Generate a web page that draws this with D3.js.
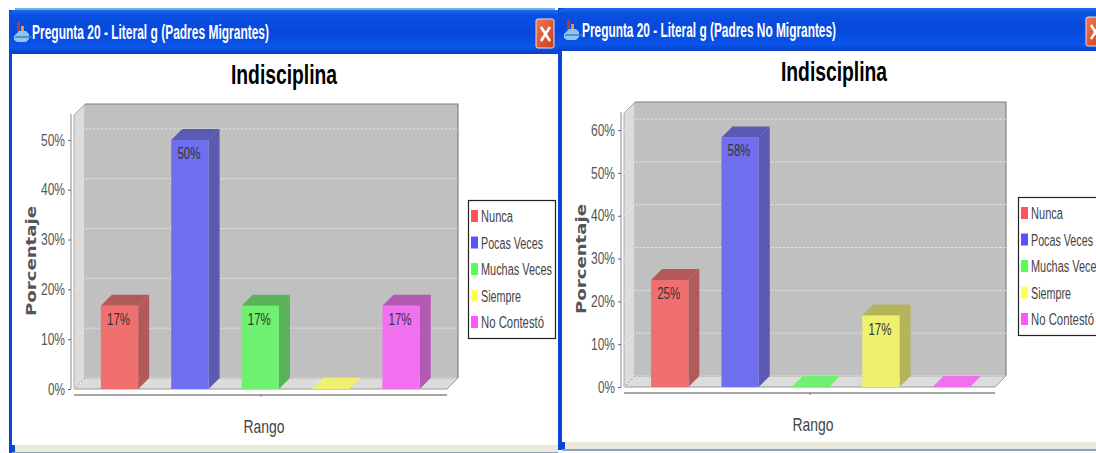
<!DOCTYPE html>
<html><head><meta charset="utf-8">
<style>html,body{margin:0;padding:0;background:#fff;overflow:hidden}svg{display:block}text{font-family:"Liberation Sans",Arial,sans-serif}</style>
<script src="https://cdn.jsdelivr.net/npm/d3@7"></script></head><body>
<svg id="c" width="1096" height="453"></svg>
<script>
const categories = ["Nunca","Pocas Veces","Muchas Veces","Siempre","No Contestó"];
const valuesMigrantes = [16.7,50,16.7,0,16.7];
const valuesNoMigrantes = [25,58.3,0,16.7,0];
const ticksMigrantes = [0,10,20,30,40,50];
const ticksNoMigrantes = [0,10,20,30,40,50,60];
const frontColors = ["#f07070","#6e6eee","#70f070","#f0f070","#f070f0"];
const sideColors = ["#b25a5a","#5a5ab2","#5ab25a","#b4b45a","#b25ab2"];
const legendColors = ["#ff5555","#5555ff","#55ff55","#ffff55","#ff55ff"];
const rowWidths = [32,62,71,40,63];

const svg = d3.select("#c");
const defs = svg.append("defs");
const grad = defs.append("linearGradient").attr("id","tb").attr("x1",0).attr("x2",0).attr("y1",0).attr("y2",1);
[[0,"#1a6cf0"],[.12,"#0a50e0"],[.5,"#0648dc"],[.85,"#0a55ea"],[1,"#0a3fc8"]].forEach(s=>grad.append("stop").attr("offset",s[0]).attr("stop-color",s[1]));
const xg = defs.append("linearGradient").attr("id","xb").attr("x1",0).attr("x2",1).attr("y1",0).attr("y2",1);
[[0,"#ee7a50"],[1,"#c83c1c"]].forEach(s=>xg.append("stop").attr("offset",s[0]).attr("stop-color",s[1]));

function label(g,str,x,y,len,opts={}){
  return g.append("text").attr("x",x).attr("y",y).text(str)
    .attr("textLength",len).attr("lengthAdjust","spacingAndGlyphs")
    .attr("font-size",opts.size||16).attr("fill",opts.fill||"#444")
    .attr("font-weight",opts.weight||"normal")
    .style("font-family",opts.family||null);
}

function chrome(o){
  const g = svg.append("g");
  g.append("rect").attr("x",o.x0).attr("y",o.top).attr("width",o.x1-o.x0).attr("height",o.bottom-o.top+8).attr("fill","#0a46d8");
  g.append("path").attr("d",`M${o.x0},${o.top+o.bar}V${o.top+7}Q${o.x0},${o.top} ${o.x0+7},${o.top}H${o.x1}V${o.top+o.bar}Z`).attr("fill","url(#tb)");
  g.append("rect").attr("x",o.cx).attr("y",o.top+o.bar).attr("width",o.x1-o.cx).attr("height",o.bottom-o.top-o.bar).attr("fill","#fff");
  g.append("rect").attr("x",o.cx+3).attr("y",o.bottom).attr("width",o.x1-o.cx-3).attr("height",7).attr("fill","#ece9d8");
  g.append("rect").attr("x",o.cx).attr("y",o.bottom+7).attr("width",o.x1-o.cx).attr("height",2).attr("fill","#8aa4c4");
  // icon
  const ix=o.iconX, iy=o.top+13;
  g.append("rect").attr("x",ix+3).attr("y",iy-1).attr("width",3).attr("height",10).attr("fill","#a83a50");
  g.append("rect").attr("x",ix+7).attr("y",iy+3).attr("width",3).attr("height",7).attr("fill","#e0a020");
  g.append("path").attr("d",`M${ix},${iy+13}l5,-5h7l3,3v5l-3,3h-9l-3,-2Z`).attr("fill","#8ec4ee");
  g.append("path").attr("d",`M${ix+1},${iy+14}h17`).attr("stroke","#3f7fc0").attr("stroke-width",1.5);
  label(g,o.title,o.iconX+18,o.top+29,o.titleLen,{size:20,fill:"#fff",weight:"bold"});
  // close button
  const b=g.append("g");
  b.append("rect").attr("x",o.btnX).attr("y",o.top+9).attr("width",18).attr("height",29).attr("rx",2).attr("fill","url(#xb)").attr("stroke","#f4d8d0").attr("stroke-width",1);
  b.append("path").attr("d",`M${o.btnX+5},${o.top+17}L${o.btnX+14},${o.top+31}M${o.btnX+14},${o.top+17}L${o.btnX+5},${o.top+31}`).attr("stroke","#fff").attr("stroke-width",2.6);
}

function chart(o){
  const g = svg.append("g");
  const d=o.depth;
  const y = d3.scaleLinear().domain(o.yDomain).range([o.y0,o.yTop]);
  const x = d3.scaleBand().domain(o.categories).range(o.xRange).paddingInner(.47).paddingOuter(.235);
  const L=o.left,R=o.right,B=o.y0,T=o.yTop;
  // walls
  g.append("path").attr("d",`M${L},${B}V${T}L${L+d},${T-d}V${B-d}Z`).attr("fill","#dcdcdc").attr("stroke","#aaa");
  g.append("path").attr("d",`M${L},${B}L${L+d},${B-d}H${R+d}L${R},${B}Z`).attr("fill","#dcdcdc").attr("stroke","#999");
  g.append("rect").attr("x",L+d).attr("y",T-d).attr("width",R-L).attr("height",B-T).attr("fill","#c0c0c0");
  g.append("path").attr("d",`M${L+d},${T-d}H${R+d}V${B-d}`).attr("fill","none").attr("stroke","#808080").attr("stroke-width",1.2);
  // gridlines
  g.selectAll("path.grid").data(o.ticks.concat()).join("path").attr("class","grid")
    .attr("d",t=>`M${L},${y(t)}L${L+d},${y(t)-d}H${R+d}`)
    .attr("fill","none").attr("stroke","#eeeeee").attr("stroke-width",1).attr("stroke-dasharray","2,2");
  // bars
  const w=x.bandwidth();
  const rows=o.categories.map((c,i)=>({c,i,v:o.values[i]}));
  const bars=g.selectAll("g.bar").data(rows).join("g").attr("class","bar");
  bars.append("path").attr("d",r=>{const X=x(r.c),Y=y(r.v);return `M${X},${Y}L${X+d},${Y-d}H${X+w+d}L${X+w},${Y}Z`;})
    .attr("fill",r=>r.v>0?o.sideColors[r.i]:o.frontColors[r.i]);
  bars.filter(r=>r.v>0).append("path").attr("d",r=>{const X=x(r.c)+w,Y=y(r.v);return `M${X},${Y}L${X+d},${Y-d}V${B-d}L${X},${B}Z`;})
    .attr("fill",r=>o.sideColors[r.i]);
  bars.filter(r=>r.v>0).append("rect").attr("x",r=>x(r.c)).attr("y",r=>y(r.v)).attr("width",w).attr("height",r=>B-y(r.v))
    .attr("fill",r=>o.frontColors[r.i]);
  bars.filter(r=>r.v>0).append("text").attr("x",r=>x(r.c)+w/2-1).attr("y",r=>y(r.v)+19)
    .attr("text-anchor","middle").attr("font-size",16).attr("fill","#333")
    .attr("textLength",23).attr("lengthAdjust","spacingAndGlyphs").text(r=>Math.round(r.v)+"%");
  // y axis
  const ax=g.append("g").attr("transform",`translate(${L-3},0)`)
    .call(d3.axisLeft(y).tickValues(o.ticks).tickFormat(t=>t+"%").tickSize(3).tickPadding(3));
  ax.selectAll("path").attr("stroke","#888").attr("d",`M0,${T-1}V${B}`);
  ax.selectAll("line").attr("stroke","#666");
  ax.selectAll("text").attr("font-size",16).attr("fill","#555")
    .attr("textLength",t=>t>0?24:17).attr("lengthAdjust","spacingAndGlyphs");
  // x axis
  const xa=d3.scalePoint().domain(["Rango"]).range([L,R]).padding(.5);
  const bx=g.append("g").attr("transform",`translate(0,${B+6})`).call(d3.axisBottom(xa).tickSize(2).tickFormat(""));
  bx.selectAll("path").attr("stroke","#888").attr("stroke-width",1.4).attr("d",`M${L},0H${R}`);
  bx.selectAll("line").attr("stroke","#777");
  label(g,"Rango",xa("Rango")-17,B+44,41,{size:19,fill:"#444"});
  // y title
  g.append("text").attr("transform",`translate(${L-38},${(B+T)/2+9}) rotate(-90)`).attr("text-anchor","middle")
    .attr("font-size",14).attr("font-weight","bold").attr("fill","#555").style("font-family","DejaVu Sans")
    .attr("textLength",110).attr("lengthAdjust","spacingAndGlyphs").text("Porcentaje");
  // chart title
  label(g,"Indisciplina",o.titleX,o.titleY,106,{size:28,fill:"#000",weight:"bold"});
  // legend
  const lg=g.append("g");
  lg.append("rect").attr("x",o.legendX+.5).attr("y",o.legendY+.5).attr("width",87).attr("height",138).attr("fill","#fff").attr("stroke","#222").attr("stroke-width",1.2);
  const ly=d3.scalePoint().domain(o.categories).range([o.legendY+16,o.legendY+122]);
  const rowsL=lg.selectAll("g").data(rows).join("g").attr("transform",r=>`translate(${o.legendX+3},${ly(r.c)})`);
  rowsL.append("rect").attr("x",0).attr("y",-6).attr("width",7).attr("height",12).attr("fill",r=>o.legendColors[r.i]);
  rowsL.append("text").attr("x",10).attr("y",6).attr("font-size",16).attr("fill","#444").text(r=>r.c)
    .attr("textLength",r=>o.rowWidths[r.i]).attr("lengthAdjust","spacingAndGlyphs");
}

chrome({x0:9,x1:558,cx:12,top:10,bar:44,bottom:445,iconX:14,title:"Pregunta 20 - Literal g (Padres Migrantes)",titleLen:237,btnX:536});
chrome({x0:558,x1:1096,cx:562,top:8,bar:43,bottom:442,iconX:564,title:"Pregunta 20 - Literal g (Padres No Migrantes)",titleLen:254,btnX:1086});
svg.append("rect").attr("x",15).attr("y",8).attr("width",540).attr("height",2).attr("fill","#6fb4d8");

const shared={categories,frontColors,sideColors,legendColors,rowWidths,depth:11};
chart({...shared,values:valuesMigrantes,ticks:ticksMigrantes,yDomain:[0,55],y0:389,yTop:115,left:74,right:447,xRange:[84.3,436.3],titleX:231,titleY:84,legendX:468,legendY:200});
chart({...shared,values:valuesNoMigrantes,ticks:ticksNoMigrantes,yDomain:[0,64],y0:387,yTop:113,left:624,right:995,xRange:[634.5,986.5],titleX:781,titleY:81,legendX:1018,legendY:197});
</script></body></html>
